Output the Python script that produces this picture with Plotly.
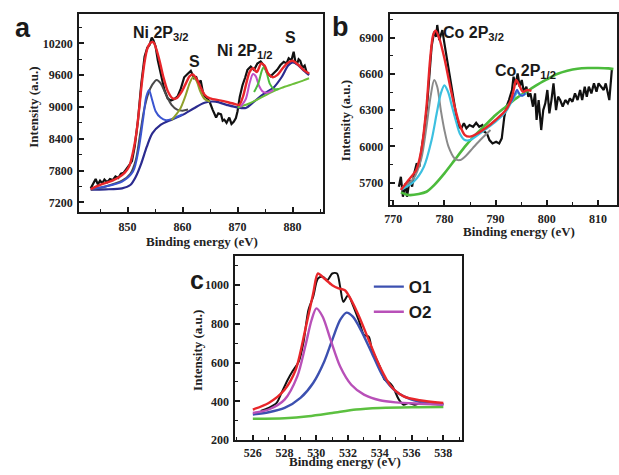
import plotly.graph_objects as go

# ---------------- Panel a : Ni 2p ----------------
a_raw_x = [843.3, 843.8, 844.2, 844.6, 845.0, 845.4, 845.8, 846.3, 846.8, 847.3, 847.8, 848.3, 848.8, 849.3,
           849.8, 850.3, 850.8, 851.3, 851.9, 852.5, 853.1, 853.6, 854.0, 854.4, 854.7, 855.1, 855.5, 856.1,
           856.7, 857.3, 857.9, 858.5, 859.1, 859.7, 860.3, 860.9, 861.5, 862.1, 862.5, 862.9, 863.3, 863.7,
           864.0, 864.5, 864.9, 865.5, 866.1, 866.5, 867.0, 867.3, 867.6, 868.0, 868.5, 868.9, 869.3, 869.7,
           870.0, 870.4, 870.9, 871.4, 871.8, 872.4, 873.0, 873.6, 874.2, 874.8, 875.4, 876.0, 876.6, 877.2,
           877.8, 878.4, 878.9, 879.3, 879.8, 880.2, 880.5, 880.8, 881.1, 881.4, 881.8, 882.2, 882.6, 883.0]
a_raw_y = [7464, 7560, 7640, 7540, 7610, 7560, 7630, 7580, 7640, 7620, 7690, 7660, 7740, 7760,
           7820, 7900, 7980, 8250, 8750, 9440, 9950, 10120, 10170, 10310, 10260, 10140, 9880, 9570,
           9320, 9160, 9120, 9150, 9200, 9350, 9560, 9620, 9680, 9540, 9560, 9440, 9500, 9280,
           9200, 9160, 9100, 8940, 8800, 8880, 8860, 8740, 8760, 8700, 8800, 8680, 8720, 8790,
           8920, 9190, 9410, 9560, 9700, 9760, 9700, 9820, 9860, 9780, 9640, 9580, 9640, 9700,
           9790, 9850, 9820, 9920, 9880, 10040, 9860, 9800, 9900, 9870, 9740, 9780, 9640, 9620]

a_fit_x = [843.3, 845, 847, 848.5, 849.5, 850.3, 851, 851.6, 852.1, 852.6, 853.1, 853.6, 854.2, 854.7, 855.2,
           855.8, 856.5, 857.3, 858.2, 859, 859.8, 860.5, 861.3, 861.9, 862.5, 863.2, 864, 865, 867, 869,
           870.3, 871, 871.6, 872.2, 872.8, 873.5, 874.3, 874.9, 875.6, 876.4, 877.2, 878, 879, 880, 881,
           882, 883]
a_fit_y = [7450, 7530, 7600, 7680, 7760, 7880, 8150, 8500, 8950, 9450, 9850, 10100, 10210, 10220, 10100,
           9880, 9570, 9300, 9160, 9170, 9280, 9420, 9580, 9610, 9540, 9390, 9230, 9160, 9120, 9070,
           9040, 9200, 9450, 9660, 9730, 9660, 9820, 9780, 9620, 9560, 9600, 9700, 9820, 9870, 9800,
           9700, 9630]

a_sat_x = [843.3, 846, 849, 850.5, 851.5, 852.3, 853, 853.8, 854.5, 855.3, 856, 857, 858, 859, 860, 861]
a_sat_y = [7440, 7500, 7610, 7740, 8000, 8500, 8940, 9260, 9420, 9510, 9450, 9230, 9040, 8950, 8930, 8950]

a_main_x = [843.3, 846, 849, 851, 852, 852.8, 853.4, 853.9, 854.4, 855.1, 856, 857, 858, 859, 860]
a_main_y = [7450, 7500, 7590, 7780, 8190, 8750, 9190, 9320, 9160, 8920, 8800, 8750, 8770, 8815, 8860]

a_bg_x = [843.3, 846, 849, 850.5, 851.5, 852.5, 853.5, 854.5, 856, 858, 860, 862, 864, 866, 868, 870,
          871.5, 873, 874.7, 876.5, 878, 879.2, 880, 881, 882, 883]
a_bg_y = [7440, 7445, 7464, 7527, 7684, 7936, 8250, 8500, 8660, 8760, 8850, 8970, 9080, 9100, 9040, 8990,
          8980, 9100, 9240, 9360, 9560, 9780, 9840, 9790, 9690, 9600]

a_s1_x = [858, 859.5, 860.5, 861.3, 861.9, 862.5, 863.2, 864, 865]
a_s1_y = [8750, 8950, 9200, 9450, 9560, 9500, 9300, 9150, 9100]

a_p12_x = [870.5, 871.5, 872.2, 872.8, 873.3, 873.9, 874.6, 875.5, 876.5]
a_p12_y = [9000, 9150, 9450, 9620, 9580, 9400, 9290, 9270, 9320]

a_sat12_x = [873, 873.8, 874.4, 874.8, 875.3, 875.9, 876.6, 877.5]
a_sat12_y = [9280, 9450, 9680, 9760, 9640, 9430, 9340, 9340]

a_base_x = [870, 872, 874, 876, 878, 880, 882, 883]
a_base_y = [8990, 9060, 9160, 9270, 9360, 9430, 9500, 9540]

# ---------------- Panel b : Co 2p ----------------
b_raw_x = [771.1, 771.5, 771.9, 772.4, 772.7, 773.2, 773.7, 774.1, 774.6, 775.1, 775.6, 776.0, 776.6, 777.1,
           777.5, 778.0, 778.4, 778.6, 779.0, 779.3, 779.6, 780.0, 780.4, 780.9, 781.4, 781.8, 782.3, 782.8,
           783.3, 783.8, 784.3, 784.9, 785.6, 786.2, 786.8, 787.4, 787.8, 788.3, 788.8, 789.4, 790.1, 790.7,
           791.2, 791.7, 792.1, 792.6, 793.2, 793.5, 793.9, 794.3, 794.7, 795.1, 795.5, 796.0, 796.4, 796.8,
           797.3, 797.7, 798.0, 798.4, 798.9, 799.3, 799.7, 800.1, 800.5, 800.9, 801.3, 801.8, 802.2, 802.6,
           803.1, 803.6, 804.1, 804.5, 805.0, 805.5, 806.0, 806.5, 806.9, 807.4, 807.8, 808.2, 808.7, 809.2,
           809.7, 810.1, 810.6, 811.1, 811.5, 811.9, 812.2, 812.7]
b_raw_y = [5667, 5749, 5584, 5694, 5584, 5722, 5667, 5777, 5860, 5832, 5998, 6108, 6329, 6605,
           6826, 6950, 6908, 7005, 6881, 6922, 6963, 6853, 6743, 6619, 6494, 6384, 6260, 6163,
           6150, 6191, 6150, 6177, 6163, 6196, 6163, 6177, 6122, 6108, 6053, 6025, 6039, 6025,
           6067, 6246, 6329, 6384, 6467, 6577, 6508, 6605, 6494, 6550, 6453, 6494, 6412, 6439,
           6329, 6439, 6219, 6384, 6136, 6301, 6357, 6467, 6274, 6384, 6522, 6301, 6412, 6384,
           6329, 6384, 6357, 6398, 6370, 6439, 6384, 6467, 6384, 6494, 6412, 6494, 6439, 6522,
           6453, 6522, 6494, 6467, 6522, 6439, 6384, 6640]

b_fit_x = [771.5, 773, 774.5, 775.5, 776.5, 777.2, 777.8, 778.3, 779, 780, 781, 782, 783, 784, 785, 786.5,
           788, 790, 792, 793, 793.6, 794, 794.6, 795.3, 796.2, 797]
b_fit_y = [5640, 5722, 5805, 5970, 6329, 6715, 6922, 6958, 6894, 6729, 6522, 6329, 6177, 6094, 6081, 6108,
           6150, 6219, 6301, 6384, 6481, 6550, 6508, 6453, 6467, 6460]

b_gray_x = [771.5, 774, 775.5, 776.5, 777.3, 778, 778.6, 779.3, 780, 780.8, 782, 783, 784, 785.5, 787, 789]
b_gray_y = [5650, 5736, 5901, 6163, 6412, 6550, 6494, 6301, 6136, 5998, 5901, 5887, 5915, 5984, 6053, 6136]

b_cyan_x = [771.5, 774, 776, 777.5, 778.5, 779.3, 780, 780.7, 781.5, 782.3, 783, 784, 785, 786.5, 788, 790,
            792, 793.5, 794.3, 795, 796]
b_cyan_y = [5640, 5708, 5832, 6053, 6274, 6439, 6505, 6453, 6329, 6205, 6108, 6053, 6053, 6094, 6141, 6205,
            6288, 6400, 6450, 6420, 6440]

b_blue_x = [792.5, 793.3, 793.8, 794.2, 794.7, 795.3, 795.8]
b_blue_y = [6340, 6390, 6440, 6470, 6430, 6420, 6440]

b_bg_x = [771.5, 773, 775, 776.5, 778, 780, 782, 784, 786, 788, 790, 792, 794, 796, 798, 800, 802, 804,
          806, 808, 810, 812, 813]
b_bg_y = [5620, 5598, 5606, 5625, 5680, 5777, 5887, 5998, 6094, 6177, 6260, 6329, 6398, 6453, 6508, 6555,
          6599, 6626, 6643, 6649, 6649, 6646, 6640]

# ---------------- Panel c : O 1s ----------------
c_raw_x = [526.5, 527.0, 527.5, 527.8, 528.2, 528.5, 528.9, 529.2, 529.5, 529.8, 530.1, 530.4, 530.7, 531.0,
           531.3, 531.5, 531.7, 532.0, 532.3, 532.7, 533.0, 533.3, 533.5, 533.7, 534.0, 534.3, 534.5, 534.8,
           535.2, 535.5, 535.8, 536.2, 536.6, 537.0, 538.0]
c_raw_y = [350, 366, 392, 443, 512, 555, 606, 709, 872, 940, 1034, 1043, 1026, 1060,
           1060, 991, 914, 948, 897, 812, 743, 734, 666, 632, 580, 512, 503, 478,
           409, 383, 392, 383, 392, 388, 385]

c_fit_x = [526, 527, 528, 528.7, 529.3, 529.8, 530.1, 530.5, 531.0, 531.4, 531.8, 532.2, 532.7, 533.3, 534,
           534.7, 535.5, 536.5, 538]
c_fit_y = [358, 392, 460, 563, 769, 957, 1060, 1034, 1000, 983, 974, 923, 837, 717, 580,
           478, 426, 406, 392]

c_o2_x = [526, 527, 528, 528.8, 529.3, 529.7, 530.0, 530.4, 530.9, 531.5, 532.2, 533, 534, 535, 536.5, 538]
c_o2_y = [340, 358, 409, 529, 683, 820, 880, 837, 717, 580, 486, 435, 406, 395, 388, 383]

c_o1_x = [526, 527, 528, 529, 529.8, 530.5, 531.0, 531.5, 531.9, 532.3, 532.8, 533.5, 534.2, 535, 536, 537, 538]
c_o1_y = [332, 344, 366, 418, 495, 606, 717, 820, 858, 837, 769, 649, 529, 452, 409, 392, 383]

c_bg_x = [526, 528, 529.5, 531, 532.5, 534, 536, 538]
c_bg_y = [310, 313, 323, 340, 358, 366, 370, 371]

RED = "#e8262a"

fig = go.Figure()


def add(x, y, color, width, xa, ya, shape="spline", name=None, legend=False):
    fig.add_trace(go.Scatter(x=x, y=y, mode="lines", xaxis=xa, yaxis=ya,
                             line=dict(color=color, width=width, shape=shape, smoothing=0.8),
                             name=name, showlegend=legend, hoverinfo="skip"))


# panel a
add(a_raw_x, a_raw_y, "#111111", 2.2, "x", "y", shape="linear")
add(a_bg_x, a_bg_y, "#2b2b8f", 2.2, "x", "y")
add(a_base_x, a_base_y, "#6cbf3a", 2.0, "x", "y")
add(a_sat_x, a_sat_y, "#4a4a4a", 2.0, "x", "y")
add(a_main_x, a_main_y, "#3b55d0", 2.0, "x", "y")
add(a_s1_x, a_s1_y, "#8fa02c", 2.0, "x", "y")
add(a_p12_x, a_p12_y, "#c050c8", 2.0, "x", "y")
add(a_sat12_x, a_sat12_y, "#4cbb3c", 2.0, "x", "y")
add(a_fit_x, a_fit_y, RED, 2.4, "x", "y")

# panel b
add(b_raw_x, b_raw_y, "#111111", 2.2, "x2", "y2", shape="linear")
add(b_bg_x, b_bg_y, "#4cbb3c", 2.6, "x2", "y2")
add(b_gray_x, b_gray_y, "#8a8a8a", 2.0, "x2", "y2")
add(b_cyan_x, b_cyan_y, "#3cc0e0", 2.2, "x2", "y2")
add(b_blue_x, b_blue_y, "#3b55d0", 1.8, "x2", "y2")
add(b_fit_x, b_fit_y, RED, 2.4, "x2", "y2")

# panel c
add(c_bg_x, c_bg_y, "#5cc040", 2.4, "x3", "y3")
add(c_raw_x, c_raw_y, "#111111", 2.0, "x3", "y3")
add(c_o1_x, c_o1_y, "#3c50b0", 2.4, "x3", "y3", name="O1", legend=True)
add(c_o2_x, c_o2_y, "#b850b8", 2.4, "x3", "y3", name="O2", legend=True)
add(c_fit_x, c_fit_y, RED, 2.4, "x3", "y3")

W, H = 619, 475
YS = 0.985  # vertical correction observed in the rendered page
SERIF = "Liberation Serif, Times New Roman, serif"
SANS = "Liberation Sans, Arial, sans-serif"
tickfont = dict(family=SERIF, size=12, color="#222222", weight="bold")


def px(v):
    return v / W


def py(v):
    return 1 - v / (H * YS)


def axis(domain, rng, tickvals, minor_dtick, anchor, standoff=0):
    return dict(domain=domain, range=rng, anchor=anchor, tickvals=tickvals, tickformat="d",
                showline=True, mirror=True, linecolor="#1a1a1a", linewidth=2,
                ticks="inside", ticklen=5, tickwidth=1.5, tickcolor="#1a1a1a",
                minor=dict(ticks="inside", ticklen=3, tickwidth=1.2, dtick=minor_dtick,
                           tickcolor="#1a1a1a", showgrid=False),
                showgrid=False, zeroline=False, tickfont=tickfont,
                ticklabelstandoff=standoff)


a_xt = [850, 860, 870, 880]
a_yt = [7200, 7800, 8400, 9000, 9600, 10200]
b_xt = [770, 780, 790, 800, 810]
b_yt = [5700, 6000, 6300, 6600, 6900]
c_xt = [526, 528, 530, 532, 534, 536, 538]
c_yt = [200, 400, 600, 800, 1000]

fig.update_layout(
    width=W, height=H, margin=dict(l=0, r=0, t=0, b=0),
    paper_bgcolor="white", plot_bgcolor="white",
    xaxis=axis([px(75), px(322)], [841.2, 885.6], a_xt, 5, "y", 3),
    yaxis=axis([py(212), py(14)], [7017, 10753], a_yt, 300, "x", 2),
    xaxis2=axis([px(389), px(619)], [769.3, 813.7], b_xt, 5, "y2", 2),
    yaxis2=axis([py(205), py(14)], [5515, 7096], b_yt, 150, "x2", 2),
    xaxis3=axis([px(233), px(462)], [524.9, 539.16], c_xt, 1, "y3", 0),
    yaxis3=axis([py(440), py(256)], [200, 1150], c_yt, 100, "x3", 2),
    legend=dict(x=px(368), y=py(269), xanchor="left", yanchor="top",
                bgcolor="rgba(0,0,0,0)", itemwidth=30, tracegroupgap=0,
                font=dict(family=SANS, size=17, color="#1a1a1a", weight="bold")),
)

title_font = dict(family=SERIF, size=13, color="#222222", weight="bold")
label_font = dict(family=SANS, size=16, color="#1a1a1a", weight="bold")
letter_font = dict(family=SANS, size=27, color="#1a1a1a", weight="bold")

annotations = [
    # axis titles
    dict(text="Binding energy (eV)", x=px(199), y=py(241), font=title_font),
    dict(text="Intensity (a.u.)", x=px(28), y=py(107), font=title_font, textangle=-90),
    dict(text="Binding energy (eV)", x=px(520), y=py(231), font=title_font),
    dict(text="Intensity (a.u.)", x=px(344), y=py(121), font=title_font, textangle=-90),
    dict(text="Binding energy (eV)", x=px(344), y=py(461), font=title_font),
    dict(text="Intensity (a.u.)", x=px(194), y=py(350), font=title_font, textangle=-90),
    # peak labels
    dict(text="Ni 2P<sub>3/2</sub>", x=px(127), y=py(33), xanchor="left", font=label_font),
    dict(text="S", x=px(192), y=py(61), font=label_font),
    dict(text="Ni 2P<sub>1/2</sub>", x=px(212), y=py(51), xanchor="left", font=label_font),
    dict(text="S", x=px(289), y=py(37), font=label_font),
    dict(text="Co 2P<sub>3/2</sub>", x=px(441), y=py(33), xanchor="left", font=label_font),
    dict(text="Co 2P<sub>1/2</sub>", x=px(494), y=py(71), xanchor="left", font=label_font),
    # panel letters
    dict(text="a", x=px(18), y=py(28), font=letter_font),
    dict(text="b", x=px(339), y=py(27), font=letter_font),
    dict(text="c", x=px(194), y=py(280), font=dict(family=SANS, size=25,
                                                  color="#1a1a1a", weight="bold")),
]
for an in annotations:
    an.setdefault("xanchor", "center")
    an.update(xref="paper", yref="paper", showarrow=False, yanchor="middle")
fig.update_layout(annotations=annotations)

fig.write_html("out.html")
